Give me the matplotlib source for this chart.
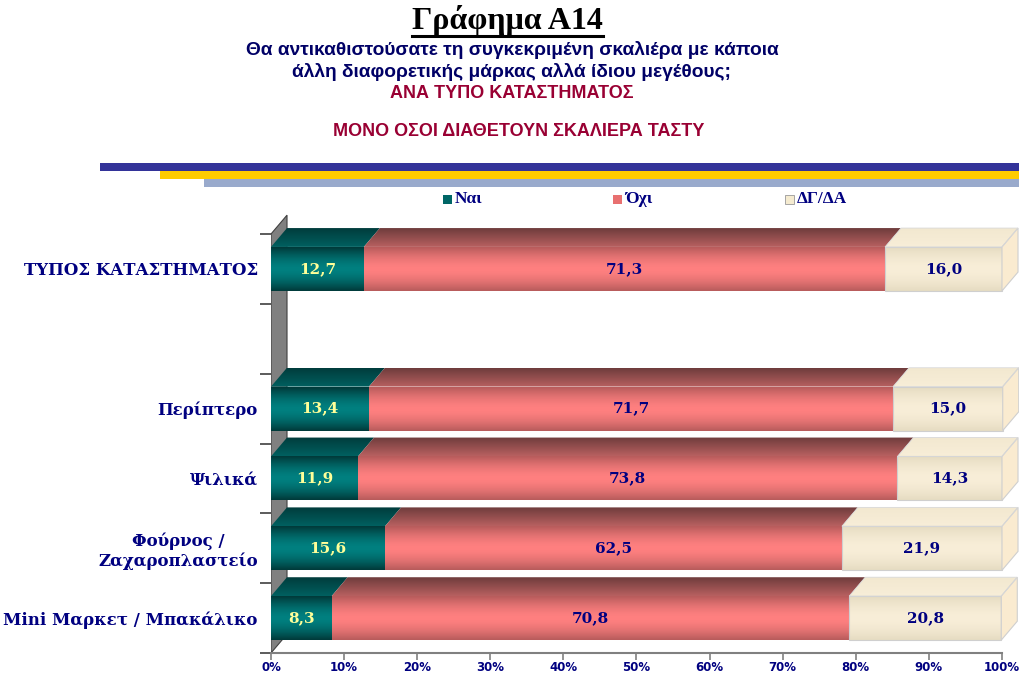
import numpy as np
import matplotlib
matplotlib.use("Agg")
import matplotlib.pyplot as plt
from matplotlib.patches import Polygon, Rectangle
from matplotlib.colors import LinearSegmentedColormap
from matplotlib.lines import Line2D

# Data (top to bottom); empty row is a spacer
categories = ["ΤΥΠΟΣ ΚΑΤΑΣΤΗΜΑΤΟΣ", "", "Περίπτερο", "Ψιλικά",
              "Φούρνος /\nΖαχαροπλαστείο", "Mini Μαρκετ / Μπακάλικο"]
nai = [12.7, np.nan, 13.4, 11.9, 15.6, 8.3]
oxi = [71.3, np.nan, 71.7, 73.8, 62.5, 70.8]
dk = [16.0, np.nan, 15.0, 14.3, 21.9, 20.8]
series_names = ["Ναι", "Όχι", "ΔΓ/ΔΑ"]
x_ticks = list(range(0, 101, 10))

NAVY = "#000080"
# front gradient (edge, centre), top face (front, back), label colour
styles = [
    dict(edge="#003a3a", centre="#008080", back="#003c3c", front="#006060", txt="#FFFF99", legend="#006666"),
    dict(edge="#b85c5c", centre="#ff8080", back="#6e3c3c", front="#b86060", txt=NAVY, legend="#e87070"),
    dict(edge="#e6dcc2", centre="#f8eed8", back="#f2e8d0", front="#f8eed8", txt=NAVY, legend="#f5ebd0"),
]

DX = 2.19      # depth in x (percent units)
DY = 0.27      # depth in y (category units)
BAR_H = 0.63


def draw_gradient(ax, x0, x1, y0, y1, c_edge, c_centre, clip=None, profile="sym"):
    """Fill a rectangle with a vertical gradient (optionally clipped to a patch)."""
    t = np.linspace(0, 1, 64)
    if profile == "sym":
        g = 1 - np.abs(2 * t - 1) ** 1.6
    else:
        g = t
    cmap = LinearSegmentedColormap.from_list("g", [c_edge, c_centre])
    im = ax.imshow(g[:, None], cmap=cmap, vmin=0, vmax=1, aspect="auto",
                   extent=(x0, x1, y0, y1), origin="lower", zorder=3,
                   interpolation="bilinear")
    if clip is not None:
        im.set_clip_path(clip)
    return im


def main():
    fig = plt.figure(figsize=(10.2, 6.75), dpi=100)
    W, H = 1020, 675

    # Title block
    fig.text(507 / W, 1 - 21 / H, "Γράφημα Α14", ha="center", va="center",
             family="Liberation Serif", fontweight="bold", fontsize=23, color="black")
    fig.add_artist(Line2D([412 / W, 603 / W], [1 - 36 / H, 1 - 36 / H],
                          color="black", lw=2.2))
    fig.text(512 / W, 1 - 50 / H, "Θα αντικαθιστούσατε τη συγκεκριμένη σκαλιέρα με κάποια",
             ha="center", va="center", family="Liberation Sans",
             fontweight="bold", fontsize=13.8, color="#000066")
    fig.text(512 / W, 1 - 72 / H, "άλλη διαφορετικής μάρκας αλλά ίδιου μεγέθους;",
             ha="center", va="center", family="Liberation Sans",
             fontweight="bold", fontsize=13.8, color="#000066")
    fig.text(512 / W, 1 - 93 / H, "ΑΝΑ ΤΥΠΟ ΚΑΤΑΣΤΗΜΑΤΟΣ", ha="center", va="center",
             family="Liberation Sans", fontweight="bold", fontsize=13, color="#990033")
    fig.text(519 / W, 1 - 131 / H, "ΜΟΝΟ ΟΣΟΙ ΔΙΑΘΕΤΟΥΝ ΣΚΑΛΙΕΡΑ ΤΑΣΤΥ", ha="center", va="center",
             family="Liberation Sans", fontweight="bold", fontsize=13, color="#990033")

    # Decorative stripes
    for x0, y0, col in [(100, 163, "#333399"), (160, 171, "#ffcc00"), (204, 179, "#99aacc")]:
        fig.add_artist(Rectangle((x0 / W, 1 - (y0 + 8) / H), (W - x0) / W, 8 / H,
                                 facecolor=col, edgecolor="none", transform=fig.transFigure))

    # Legend
    for name, st, lx in zip(series_names, styles, [443, 613, 785]):
        fig.add_artist(Rectangle((lx / W, 1 - 204 / H), 9 / W, 9 / H, facecolor=st["legend"],
                                 edgecolor="#999999" if name == "ΔΓ/ΔΑ" else "none", lw=0.6,
                                 transform=fig.transFigure))
        fig.text((lx + 12) / W, 1 - 199 / H, name, ha="left", va="center",
                 family="Liberation Serif", fontweight="bold", fontsize=12.5, color=NAVY)

    # Axes: x 0..100 -> px 271..1002, y 0..6 -> px 653..234
    ppx = (1002 - 271) / 100.0
    ppy = (653 - 234) / 6.0
    xmax, ymax = 102.4, 6.35
    ax = fig.add_axes([271 / W, (H - 653) / H, xmax * ppx / W, ymax * ppy / H])

    # Left wall
    wall = Polygon([(0, 0), (0, 6), (DX, 6 + DY), (DX, DY)], closed=True,
                   facecolor="#808080", edgecolor="#404040", lw=0.8, zorder=1)
    ax.add_patch(wall)

    n = len(categories)
    for i in range(n):
        if np.isnan(nai[i]):
            continue
        yc = n - 0.5 - i
        yb, yt = yc - BAR_H / 2, yc + BAR_H / 2
        vals = [nai[i], oxi[i], dk[i]]
        left = 0.0
        for k, (v, st) in enumerate(zip(vals, styles)):
            x0, x1 = left, left + v
            # top face
            top = Polygon([(x0, yt), (x1, yt), (x1 + DX, yt + DY), (x0 + DX, yt + DY)],
                          closed=True, facecolor="none", edgecolor="none")
            ax.add_patch(top)
            draw_gradient(ax, x0, x1 + DX, yt, yt + DY, st["front"], st["back"],
                          clip=top, profile="lin")
            # front face
            draw_gradient(ax, x0, x1, yb, yt, st["edge"], st["centre"])
            if k == 2:
                ax.add_patch(Rectangle((x0, yb), v, BAR_H, facecolor="none",
                                       edgecolor="#cfcfcf", lw=0.8, zorder=4))
                side = Polygon([(x1, yb), (x1, yt), (x1 + DX, yt + DY), (x1 + DX, yb + DY)],
                               closed=True, facecolor="#faebd0", edgecolor="#cfcfcf",
                               lw=0.8, zorder=4)
                ax.add_patch(side)
                ax.add_patch(Polygon([(x0, yt), (x1, yt), (x1 + DX, yt + DY), (x0 + DX, yt + DY)],
                                     closed=True, facecolor="none", edgecolor="#d8d8d8",
                                     lw=0.6, zorder=4))
            ax.text((x0 + x1) / 2, yc, f"{v:.1f}".replace(".", ","), ha="center", va="center",
                    family="DejaVu Serif", fontweight="bold", fontsize=11, color=st["txt"],
                    zorder=6)
            left = x1

    ax.set_xlim(0, xmax)
    ax.set_ylim(0, ymax)
    for s in ["top", "right", "left"]:
        ax.spines[s].set_visible(False)
    ax.spines["bottom"].set_color("#808080")
    ax.spines["bottom"].set_linewidth(1.5)
    ax.spines["bottom"].set_bounds(0, 100)

    ax.set_xticks(x_ticks)
    ax.set_xticklabels([f"{t}%" for t in x_ticks], family="DejaVu Sans", fontweight="bold",
                       fontsize=8.5, color=NAVY)
    ax.tick_params(axis="x", length=5, width=1.2, color="#808080", pad=0.5)

    ax.set_yticks(range(0, 7))
    ax.set_yticklabels([])
    ax.tick_params(axis="y", which="major", length=8, width=1.2, color="#404040")
    ax.set_yticks([n - 0.5 - i for i in range(n)], minor=True)
    ax.set_yticklabels(categories, minor=True, family="DejaVu Serif", fontweight="bold",
                       fontsize=12, color=NAVY, ha="right", multialignment="center")
    ax.tick_params(axis="y", which="minor", length=0, pad=9.5)

    fig.savefig("out.png", dpi=100)


if __name__ == "__main__":
    main()
